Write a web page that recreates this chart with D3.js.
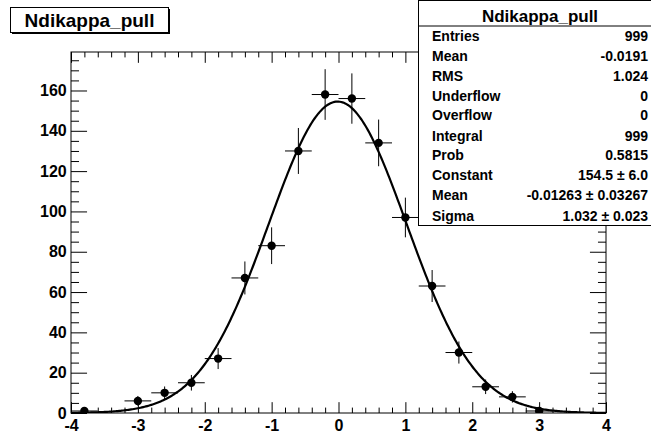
<!DOCTYPE html>
<html>
<head>
<meta charset="utf-8">
<script src="https://cdn.jsdelivr.net/npm/d3@7"></script>
<style>
  html, body { margin: 0; padding: 0; background: #fff; }
  svg { display: block; }
  text { font-family: "Liberation Sans", Arial, Helvetica, sans-serif; font-weight: bold; fill: #000; }
</style>
</head>
<body>
<svg id="chart" width="651" height="438"></svg>
<script>
// ---------------- data ----------------
const histTitle = "Ndikappa_pull";
const binCenters = [-3.8, -3.4, -3.0, -2.6, -2.2, -1.8, -1.4, -1.0, -0.6, -0.2,
                     0.2,  0.6,  1.0,  1.4,  1.8,  2.2,  2.6,  3.0,  3.4,  3.8];
const binCounts  = [1, 0, 6, 10, 15, 27, 67, 83, 130, 158,
                    156, 134, 97, 63, 30, 13, 8, 1, 0, 0];
const binHalfWidth = 0.2;
const fitParams = [154.5, -0.01263, 1.032];   // constant, mean, sigma
const xMajorTicks = [-4, -3, -2, -1, 0, 1, 2, 3, 4];
const yMajorTicks = [0, 20, 40, 60, 80, 100, 120, 140, 160];
const statLabels = ["Entries", "Mean", "RMS", "Underflow", "Overflow", "Integral", "Prob", "Constant", "Mean", "Sigma"];
const statValues = ["999", "-0.0191", "1.024", "0", "0", "999", "0.5815", "154.5 \u00b1 6.0", "-0.01263 \u00b1 0.03267", "1.032 \u00b1 0.023"];

// ---------------- layout ----------------
const frame = { left: 71, right: 606, top: 52, bottom: 413 };
const yMax = 179.1;

const svg = d3.select("#chart");
const x = d3.scaleLinear().domain([-4, 4]).range([frame.left, frame.right]);
const y = d3.scaleLinear().domain([0, yMax]).range([frame.bottom, frame.top]);

const xMinorOnly = d3.range(0, 41).map(i => +(-4 + i * 0.2).toFixed(2)).filter(v => Math.abs(v - Math.round(v)) > 1e-6);
const yMinorOnly = d3.range(0, 36).map(i => i * 5).filter(v => v % 20 !== 0);

const plotH = frame.bottom - frame.top;
const plotW = frame.right - frame.left;
const xMajLen = 0.03 * plotH, xMinLen = xMajLen / 2;
const yMajLen = 0.03 * plotW, yMinLen = yMajLen / 2;
const fmt = d => String(d);   // plain hyphen-minus like the reference

function strip(g) { g.select(".domain").remove(); g.selectAll("line").attr("stroke", "#000"); }

// bottom axis (ticks inside)
svg.append("g").attr("transform", `translate(0,${frame.bottom})`)
  .call(d3.axisBottom(x).tickValues(xMajorTicks).tickSizeInner(-xMajLen).tickSizeOuter(0).tickPadding(6.6).tickFormat(fmt))
  .call(strip)
  .call(g => g.selectAll("text").style("font-size", "16px").style("font-family", null));
svg.append("g").attr("transform", `translate(0,${frame.bottom})`)
  .call(d3.axisBottom(x).tickValues(xMinorOnly).tickSizeInner(-xMinLen).tickSizeOuter(0).tickFormat(""))
  .call(strip);
// top axis
svg.append("g").attr("transform", `translate(0,${frame.top})`)
  .call(d3.axisTop(x).tickValues(xMajorTicks).tickSizeInner(-xMajLen).tickSizeOuter(0).tickFormat(""))
  .call(strip);
svg.append("g").attr("transform", `translate(0,${frame.top})`)
  .call(d3.axisTop(x).tickValues(xMinorOnly).tickSizeInner(-xMinLen).tickSizeOuter(0).tickFormat(""))
  .call(strip);
// left axis
svg.append("g").attr("transform", `translate(${frame.left},0)`)
  .call(d3.axisLeft(y).tickValues(yMajorTicks).tickSizeInner(-yMajLen).tickSizeOuter(0).tickPadding(4.3).tickFormat(fmt))
  .call(strip)
  .call(g => g.selectAll("text").style("font-size", "16px").style("font-family", null));
svg.append("g").attr("transform", `translate(${frame.left},0)`)
  .call(d3.axisLeft(y).tickValues(yMinorOnly).tickSizeInner(-yMinLen).tickSizeOuter(0).tickFormat(""))
  .call(strip);
// right axis
svg.append("g").attr("transform", `translate(${frame.right},0)`)
  .call(d3.axisRight(y).tickValues(yMajorTicks).tickSizeInner(-yMajLen).tickSizeOuter(0).tickFormat(""))
  .call(strip);
svg.append("g").attr("transform", `translate(${frame.right},0)`)
  .call(d3.axisRight(y).tickValues(yMinorOnly).tickSizeInner(-yMinLen).tickSizeOuter(0).tickFormat(""))
  .call(strip);

// frame
svg.append("rect")
  .attr("x", frame.left).attr("y", frame.top)
  .attr("width", plotW).attr("height", plotH)
  .attr("fill", "none").attr("stroke", "#000").attr("stroke-width", 1);

// clip
svg.append("clipPath").attr("id", "plotclip").append("rect")
  .attr("x", frame.left).attr("y", frame.top).attr("width", plotW).attr("height", plotH);

// data points with error bars
const pts = binCenters.map((c, i) => ({ c, n: binCounts[i] })).filter(d => d.n > 0);
const eg = svg.append("g").attr("clip-path", "url(#plotclip)");
eg.selectAll("line.ex").data(pts).join("line").attr("class", "ex")
  .attr("x1", d => x(d.c - binHalfWidth)).attr("x2", d => x(d.c + binHalfWidth))
  .attr("y1", d => y(d.n)).attr("y2", d => y(d.n))
  .attr("stroke", "#000").attr("stroke-width", 1);
eg.selectAll("line.ey").data(pts).join("line").attr("class", "ey")
  .attr("x1", d => x(d.c)).attr("x2", d => x(d.c))
  .attr("y1", d => y(d.n - Math.sqrt(d.n))).attr("y2", d => y(d.n + Math.sqrt(d.n)))
  .attr("stroke", "#000").attr("stroke-width", 1);

// fit curve
const [A, mu, sg] = fitParams;
const gauss = v => A * Math.exp(-0.5 * Math.pow((v - mu) / sg, 2));
const curveX = d3.range(0, 401).map(i => -4 + i * 0.02);
eg.append("path")
  .datum(curveX)
  .attr("d", d3.line().x(v => x(v)).y(v => y(gauss(v))))
  .attr("fill", "none").attr("stroke", "#000").attr("stroke-width", 2.2);

eg.selectAll("circle").data(pts).join("circle")
  .attr("cx", d => x(d.c)).attr("cy", d => y(d.n)).attr("r", 4.2)
  .attr("fill", "#000");

// title box
const tb = { x: 10.5, y: 7.5, w: 158, h: 25 };
svg.append("rect").attr("x", tb.x + 1.5).attr("y", tb.y + 1.5).attr("width", tb.w).attr("height", tb.h).attr("fill", "#000");
svg.append("rect").attr("x", tb.x).attr("y", tb.y).attr("width", tb.w).attr("height", tb.h)
  .attr("fill", "#fff").attr("stroke", "#000").attr("stroke-width", 1);
svg.append("text").attr("x", tb.x + tb.w / 2).attr("y", 26.8).attr("text-anchor", "middle")
  .style("font-size", "19px").text(histTitle);

// stats box
const sb = { x: 418.5, y: 0.5, w: 236, h: 225 };
svg.append("rect").attr("x", sb.x).attr("y", sb.y).attr("width", sb.w).attr("height", sb.h)
  .attr("fill", "#fff").attr("stroke", "#000").attr("stroke-width", 1);
svg.append("line").attr("x1", sb.x).attr("x2", sb.x + sb.w).attr("y1", 26).attr("y2", 26)
  .attr("stroke", "#000").attr("stroke-width", 1);
svg.append("text").attr("x", 540).attr("y", 22).attr("text-anchor", "middle")
  .style("font-size", "17px").text(histTitle);
const rowBase = [40.7, 61, 81, 101, 120, 141, 159.5, 180.3, 200.3, 220.5];
statLabels.forEach((lab, i) => {
  svg.append("text").attr("x", 432).attr("y", rowBase[i]).style("font-size", "14px").text(lab);
  svg.append("text").attr("x", 648).attr("y", rowBase[i]).attr("text-anchor", "end").style("font-size", "14px").text(statValues[i]);
});
</script>
</body>
</html>
